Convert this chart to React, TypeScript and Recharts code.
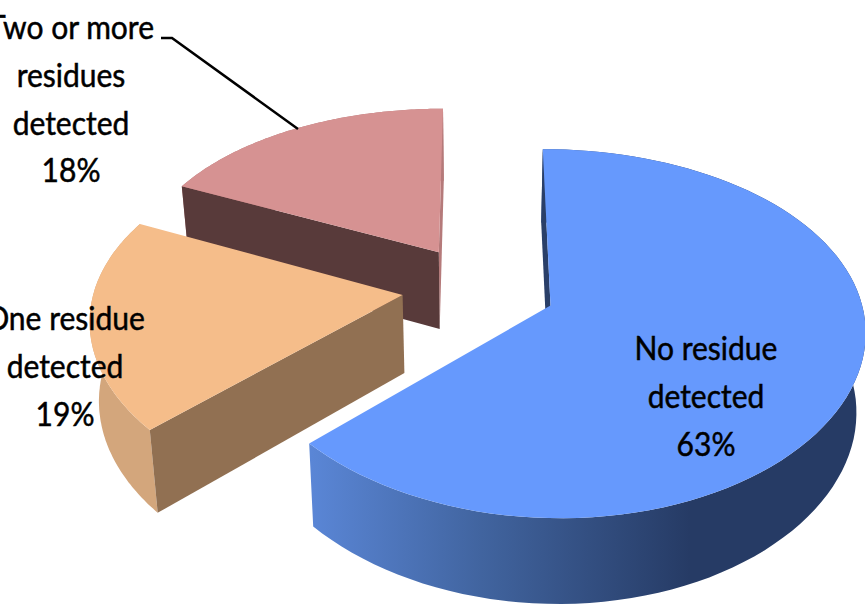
import { Pie, PieChart } from "recharts";

// slices run counter-clockwise from the top, so the back ones paint first
const categories = [
  ["Two or more", "residues", "detected"],
  ["One residue", "detected"],
  ["No residue", "detected"],
];
const shares = [18, 19, 63];

const topColors = ["#d69292", "#f5bd8a", "#6699fd"];
const rimColors = ["#b57a7a", "#d3a67c", "url(#blueRim)"];
const startWallColors = ["#b57a7a", "#917052", "#2a3f68"];
const endWallColors = ["#583a3a", "#917052", "#2a3f68"];

const labelCenters = [71, 65, 706];
const labelBaselines = [39, 330, 360];
const leaderPoints = "161,38 172,38 298,129";

const TILT = 0.568;
const PERSPECTIVE = 0.15;
const PERSPECTIVE_X = 0.12;
const EXPLODE = 0.25;
const THICKNESS = 78;
const FLOOR_SCALE = 0.976;
const LINE_STEP = 47.8;
const TEXT_SQUEEZE = 0.91;

const rad = (deg: number) => (deg * Math.PI) / 180;

const chartData = categories.map((lines, i) => ({
  name: lines.join(" "),
  value: shares[i],
  fill: topColors[i],
}));

// project a point of the slice onto the tilted plane; floor=true gives its underside
function project(p: any, u: number, v: number, floor = false) {
  const ox = EXPLODE * Math.cos(rad(p.midAngle));
  const oy = -EXPLODE * Math.sin(rad(p.midAngle));
  const scale = 1 / (1 - PERSPECTIVE * (v + oy));
  const scaleX = 1 / (1 - PERSPECTIVE_X * (v + oy));
  const x = p.outerRadius * (u + ox) * scaleX;
  const y = p.outerRadius * TILT * (v + oy) * scale;
  return floor
    ? [p.cx + x * FLOOR_SCALE, p.cy + y + THICKNESS * (0.5 + 0.5 * scale)]
    : [p.cx + x, p.cy + y];
}

const toPath = (points: number[][]) =>
  "M" + points.map((pt) => `${pt[0].toFixed(1)},${pt[1].toFixed(1)}`).join("L") + "Z";

// a cut face shows only when the slice's top lies on the far side of its upper edge
function faceShows(apex: number[], corner: number[], inner: number[]) {
  const ex = corner[0] - apex[0];
  const ey = corner[1] - apex[1];
  const down = ex;
  const toInner = ex * (inner[1] - apex[1]) - ey * (inner[0] - apex[0]);
  return down * toInner < 0;
}

function Slice3D(props: any) {
  const i = props.index ?? categories.findIndex((c) => c.join(" ") === props.name);
  const arc: number[] = [];
  const steps = 96;
  for (let k = 0; k <= steps; k++) {
    arc.push(props.startAngle + ((props.endAngle - props.startAngle) * k) / steps);
  }
  const at = (a: number, floor = false) =>
    project(props, Math.cos(rad(a)), -Math.sin(rad(a)), floor);

  const apexTop = project(props, 0, 0);
  const apexFloor = project(props, 0, 0, true);
  const inner = at(props.midAngle);
  const top = [apexTop, ...arc.map((a) => at(a))];
  const rim = [...arc.map((a) => at(a)), ...arc.slice().reverse().map((a) => at(a, true))];
  const startWall = [apexTop, at(props.startAngle), at(props.startAngle, true), apexFloor];
  const endWall = [apexTop, at(props.endAngle), at(props.endAngle, true), apexFloor];

  return (
    <g>
      <path d={toPath(rim)} fill={rimColors[i]} />
      {faceShows(apexTop, at(props.startAngle), inner) && (
        <path d={toPath(startWall)} fill={startWallColors[i]} />
      )}
      {faceShows(apexTop, at(props.endAngle), inner) && (
        <path d={toPath(endWall)} fill={endWallColors[i]} />
      )}
      <path d={toPath(top)} fill={topColors[i]} />
    </g>
  );
}

function SliceLabel(props: any) {
  const i = props.index;
  const lines = [...categories[i], `${shares[i]}%`];
  const x = labelCenters[i];
  return (
    <g>
      {i === 0 && <polyline points={leaderPoints} fill="none" stroke="#000" strokeWidth={2.5} />}
      {lines.map((line, k) => (
        <text
          key={line}
          transform={`translate(${x} ${labelBaselines[i] + k * LINE_STEP}) scale(${TEXT_SQUEEZE} 1)`}
          textAnchor="middle"
          fontFamily="Lato"
          fontSize={33}
          fill="#000"
          stroke="#000"
          strokeWidth={0.5}
        >
          {line}
        </text>
      ))}
    </g>
  );
}

export default function App() {
  return (
    <div style={{ position: "absolute", left: 0, top: 0, width: 865, height: 605, background: "#fff" }}>
      <PieChart width={865} height={605} margin={{ top: 0, right: 0, bottom: 0, left: 0 }}>
        <defs>
          <linearGradient id="blueRim" gradientUnits="userSpaceOnUse" x1={311} y1={0} x2={690} y2={0}>
            <stop offset="0%" stopColor="#5a86d6" />
            <stop offset="45%" stopColor="#41649f" />
            <stop offset="100%" stopColor="#263b65" />
          </linearGradient>
        </defs>
        <Pie
          data={chartData}
          dataKey="value"
          nameKey="name"
          cx={479}
          cy={288}
          outerRadius={308}
          startAngle={90}
          endAngle={450}
          stroke="none"
          isAnimationActive={false}
          shape={Slice3D}
          label={SliceLabel}
          labelLine={false}
        />
      </PieChart>
    </div>
  );
}
